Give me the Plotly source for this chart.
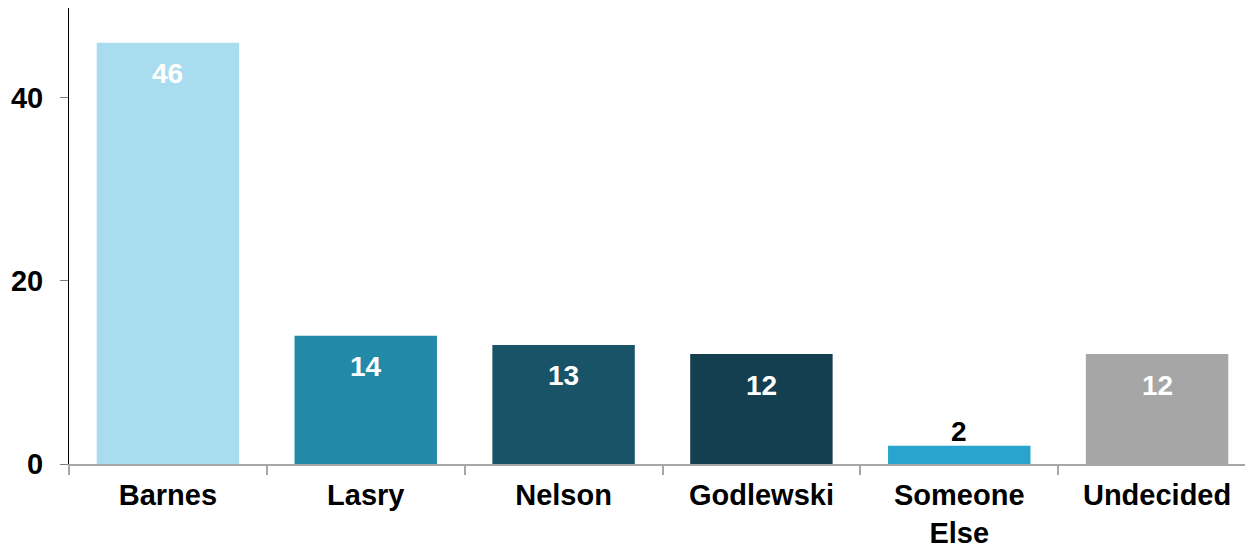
import plotly.graph_objects as go

categories = ["Barnes", "Lasry", "Nelson", "Godlewski", "Someone<br>Else", "Undecided"]
values = [46, 14, 13, 12, 2, 12]
colors = ["#A9DCEE", "#2289A9", "#185367", "#133F50", "#29A4CF", "#A6A6A6"]
label_colors = ["white", "white", "white", "white", "black", "white"]
label_inside = [True, True, True, True, False, True]
y_ticks = [0, 20, 40]

FONT = "Liberation Sans, Arial, sans-serif"

fig = go.Figure()
fig.add_trace(go.Bar(x=categories, y=values, marker=dict(color=colors, line=dict(width=0)),
                     hoverinfo="x+y"))

for c, v, lc, ins in zip(categories, values, label_colors, label_inside):
    fig.add_annotation(x=c, y=v, text=f"<b>{v}</b>", showarrow=False,
                       yanchor="middle", yshift=-31 if ins else 14,
                       font=dict(family=FONT, size=28, color=lc))

# page body has an 8px default margin, so offsets compensate for it
fig.update_layout(
    width=1253, height=544,
    margin=dict(l=61, r=5, t=0, b=88),
    paper_bgcolor="white", plot_bgcolor="white",
    bargap=0.28,
    showlegend=False,
    font=dict(family=FONT, size=28, color="black"),
)
fig.update_xaxes(
    automargin=False,
    showline=True, linecolor="#A6A6A6", linewidth=2,
    ticks="outside", tickson="boundaries", ticklen=9, tickcolor="#A6A6A6", tickwidth=2,
    ticklabelstandoff=4,
    tickfont=dict(family=FONT, size=29, color="black", weight="bold"),
    showgrid=False, zeroline=False,
)
fig.update_yaxes(
    automargin=False,
    range=[0, 49.8], tickvals=y_ticks, ticktext=[f"<b>{t}</b>" for t in y_ticks],
    showline=True, linecolor="black", linewidth=1,
    ticks="outside", ticklen=8, tickcolor="#808080", tickwidth=1,
    ticklabelstandoff=11,
    tickfont=dict(family=FONT, size=29, color="black"),
    showgrid=False, zeroline=False,
)

fig.write_html("out.html")
